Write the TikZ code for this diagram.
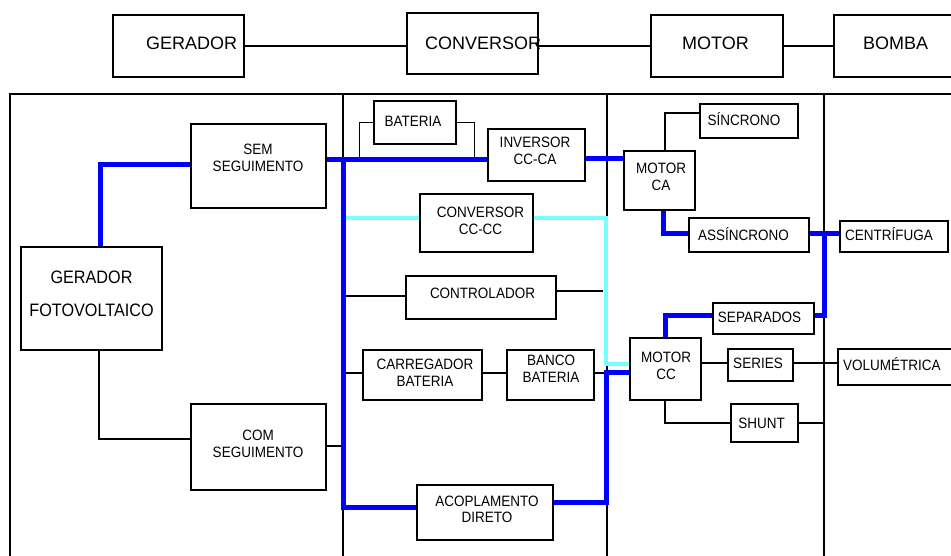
\documentclass[tikz,border=0pt]{standalone}
\usepackage{fontspec}
\setmainfont{Liberation Sans}
\newfontfamily\nf[FakeStretch=0.9]{Liberation Sans}
\usetikzlibrary{fit,backgrounds}
\definecolor{bluec}{RGB}{0,0,255}
\definecolor{cyanc}{RGB}{120,255,255}
\tikzset{
  boxst/.style={draw, line width=1.4pt, fill=white, inner sep=0pt},
  lnst/.style={line width=1.3pt},
  bluest/.style={line width=5pt, draw=bluec},
  cyanst/.style={line width=3.5pt, draw=cyanc},
  txtst/.style={font=\nf\fontsize{15}{17}\selectfont, align=center, inner sep=0pt},
  slst/.style={text height=10.8pt, text depth=0pt},
  toptxt/.style={font=\fontsize{18}{20}\selectfont, anchor=west, inner sep=0pt, text height=12.9pt, text depth=0pt},
}
\begin{document}
\begin{tikzpicture}[x=1pt,y=-1pt]
\useasboundingbox (0,0) rectangle (951,555);
\clip (0,0) rectangle (951,555);

% top row
\node[boxst, fit={(113,15)(244,77)}] (gT) {};
\node[toptxt] (gTt) at (146,43) {GERADOR};
\node[boxst, fit={(407,13)(538,74)}] (cT) {};
\node[boxst, fit={(651,15)(783,77)}] (mT) {};
\node[toptxt] (mTt) at (682,43) {MOTOR};
\node[boxst, fit={(834,15)(975,77)}] (bT) {};
\node[toptxt] (bTt) at (863,43) {BOMBA};

% column 1
\node[boxst, fit={(21,247)(162,350)}] (gf) {};
\node[txtst, font=\nf\fontsize{18}{33}\selectfont] (gft) at (91.5,293.5) {GERADOR\\FOTOVOLTAICO};
\node[boxst, fit={(191,124)(326,208)}] (sem) {};
\node[txtst] (semt) at (258,157.5) {SEM\\SEGUIMENTO};
\node[boxst, fit={(191,404)(326,490)}] (com) {};
\node[txtst] (comt) at (258,443.5) {COM\\SEGUIMENTO};

% column 2
\node[boxst, fit={(374,101)(456,144)}] (bat) {};
\node[txtst, slst] (batt) at (413,121.5) {BATERIA};
\node[boxst, fit={(488,129)(585,181)}] (inv) {};
\node[txtst] (invt) at (535,150.5) {INVERSOR\\CC-CA};
\node[boxst, fit={(420,194)(533,252)}] (conv) {};
\node[txtst] (convt) at (480.5,220.5) {CONVERSOR\\CC-CC};
\node[boxst, fit={(406,276)(556,319)}] (ctl) {};
\node[txtst, slst] (ctlt) at (482.5,293) {CONTROLADOR};
\node[boxst, fit={(363,350)(482,400)}] (car) {};
\node[txtst] (cart) at (425,373) {CARREGADOR\\BATERIA};
\node[boxst, fit={(507,350)(594,400)}] (bnk) {};
\node[txtst] (bnkt) at (551,368.5) {BANCO\\BATERIA};
\node[boxst, fit={(417,485)(553,540)}] (acp) {};
\node[txtst, font=\nf\fontsize{15}{15.5}\selectfont] (acpt) at (487,509.5) {ACOPLAMENTO\\DIRETO};

% column 3
\node[boxst, fit={(624,151)(695,210)}] (mca) {};
\node[txtst] (mcat) at (661,177) {MOTOR\\CA};
\node[boxst, fit={(700,104)(798,138)}] (sin) {};
\node[txtst, slst] (sint) at (744,120) {SÍNCRONO};
\node[boxst, fit={(689,218)(809,252)}] (asn) {};
\node[txtst, slst] (asnt) at (743.5,235) {ASSÍNCRONO};
\node[boxst, fit={(713,303)(814,334)}] (sep) {};
\node[txtst, slst] (sept) at (759.5,317) {SEPARADOS};
\node[boxst, fit={(630,338)(701,400)}] (mcc) {};
\node[txtst] (mcct) at (666,365.5) {MOTOR\\CC};
\node[boxst, fit={(728,349)(793,381)}] (ser) {};
\node[txtst, slst] (sert) at (758,363) {SERIES};
\node[boxst, fit={(731,404)(798,442)}] (shu) {};
\node[txtst, slst] (shut) at (761.5,423) {SHUNT};

% column 4
\node[boxst, fit={(840,221)(948,252)}] (cen) {};
\node[txtst, slst] (cent) at (889,235) {CENTRÍFUGA};
\node[boxst, fit={(838,349)(975,385)}] (vol) {};
\node[txtst, slst, anchor=west] (volt) at (843,365) {VOLUMÉTRICA};

% top CONVERSOR text drawn over its box edge
\node[toptxt] (cTt) at (425,43) {CONVERSOR};

\coordinate (busT) at (343,159);
\coordinate (busB) at (343,507);
\coordinate (cyL) at (343,218);
\coordinate (cyA) at (606,218);
\coordinate (cyB) at (606,364);
\coordinate (ccB) at (606,372);
\coordinate (rA) at (824,233);
\coordinate (rB) at (824,315);

\begin{pgfonlayer}{background}
  % frame and column dividers
  \draw[lnst] (10,600) -- (10,94) -- (990,94);
  \draw[lnst] (343,94) -- (343,600);
  \draw[lnst] (607,94) -- (607,600);
  \draw[lnst] (824,94) -- (824,600);

  % top row connectors
  \draw[lnst] (gT.east |- 0,46) -- (cT.west |- 0,46);
  \draw[lnst] (cT.east |- 0,46) -- (mT.west |- 0,46);
  \draw[lnst] (mT.east |- 0,46) -- (bT.west |- 0,46);

  % black connectors
  \draw[lnst] (bat.west) -| ([xshift=-14pt]bat.west |- busT);
  \draw[lnst] (bat.east) -| ([xshift=18pt]bat.east |- busT);
  \draw[lnst] (busT |- 0,296) -- (ctl.west |- 0,296);
  \draw[lnst] (ctl.east |- 0,291) -- (603,291);
  \draw[lnst] (busT |- 0,373) -- (car.west |- 0,373);
  \draw[lnst] (car.east |- 0,373) -- (bnk.west |- 0,373);
  \draw[lnst] (bnk.east |- 0,373) -- (607,373);
  \draw[lnst] (gf.south -| 99,0) |- (com.west |- 0,439);
  \draw[lnst] (com.east |- 0,446) -- (busT |- 0,446);
  \draw[lnst] (mca.north -| 665,0) |- (sin.west |- 0,113);
  \draw[lnst] (mcc.east |- 0,363) -- (ser.west |- 0,363);
  \draw[lnst] (ser.east |- 0,363) -- (vol.west |- 0,363);
  \draw[lnst] (mcc.south -| 665,0) |- (shu.west |- 0,423);
  \draw[lnst] (shu.east |- 0,423) -- (rB |- 0,423);

  % cyan path
  \draw[cyanst] (cyL) -- (cyL -| conv.west);
  \draw[cyanst] (conv.east |- cyA) -- (cyA) -- (cyB) -- (cyB -| mcc.west);

  % blue paths
  \draw[bluest] (gf.north -| 100,0) |- (sem.west |- 0,164);
  \draw[bluest] (sem.east |- busT) -- (busT -| inv.west);
  \draw[bluest] (busT) -- (busB) -- (busB -| acp.west);
  \draw[bluest] (inv.east |- 0,158) -- (mca.west |- 0,158);
  \draw[bluest] (acp.east |- 0,502) -| (ccB) -- (ccB -| mcc.west);
  \draw[bluest] (mca.south -| 663,0) |- (asn.west |- rA);
  \draw[bluest] (asn.east |- rA) -- (rA -| cen.west);
  \draw[bluest] (rA) -- (rB) -- (rB -| sep.east);
  \draw[bluest] (mcc.north -| 665,0) |- (sep.west |- rB);
\end{pgfonlayer}
\end{tikzpicture}
\end{document}
